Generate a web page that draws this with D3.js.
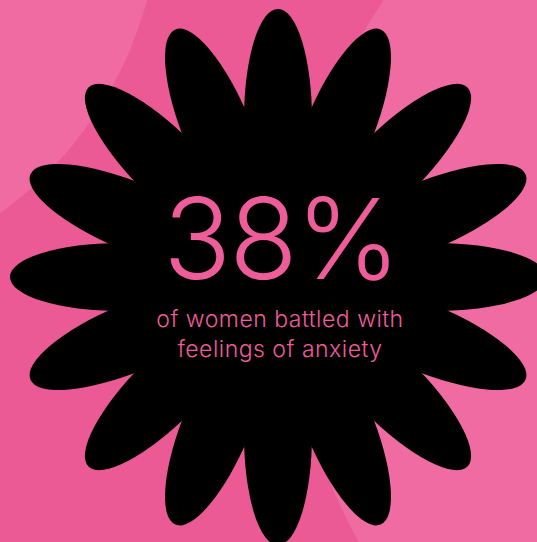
<!DOCTYPE html>
<html>
<head>
<meta charset="utf-8">
<script src="https://cdn.jsdelivr.net/npm/d3@7"></script>
<style>
  html, body { margin: 0; padding: 0; background: #EC5A95; }
  svg { display: block; }
</style>
</head>
<body>
<div id="chart"></div>
<script>
// ---- data ----
const statValue = [38];
const statSuffix = "%";
const captionLines = ["of women battled with", "feelings of anxiety"];
const petalIndex = d3.range(16);

// ---- layout ----
const W = 537, H = 542;
const colors = { dark: "#EC5A95", light: "#F06BA2", flower: "#000000", text: "#EE5C9A" };
const center = { x: 278, y: 277 };

const svg = d3.select("#chart").append("svg")
  .attr("width", W).attr("height", H);

// background
svg.append("rect").attr("width", W).attr("height", H).attr("fill", colors.dark);
svg.append("circle").attr("cx", -224.5).attr("cy", -99).attr("r", 384.5).attr("fill", colors.light);
svg.append("circle").attr("cx", 804).attr("cy", 291).attr("r", 511).attr("fill", colors.light);

// flower
const angle = d3.scaleLinear().domain([0, petalIndex.length]).range([0, 360]);
const g = svg.append("g").attr("transform", `translate(${center.x},${center.y})`);
g.append("circle").attr("r", 166).attr("fill", colors.flower);
g.selectAll("ellipse.petal").data(petalIndex).join("ellipse")
  .attr("class", "petal")
  .attr("cx", 0).attr("cy", -158)
  .attr("rx", 34).attr("ry", 110)
  .attr("transform", d => `rotate(${angle(d)})`)
  .attr("fill", colors.flower);

// text
const fmt = d3.format("d");
svg.append("text")
  .attr("x", 281).attr("y", 279)
  .attr("text-anchor", "middle")
  .attr("font-family", "Inter, Lato, sans-serif")
  .attr("font-weight", 300)
  .attr("font-size", 112)
  .attr("letter-spacing", -2)
  .attr("fill", colors.text)
  .text(fmt(statValue[0]) + statSuffix);

svg.selectAll("text.caption").data(captionLines).join("text")
  .attr("class", "caption")
  .attr("x", 280)
  .attr("y", (d, i) => 327 + i * 30)
  .attr("text-anchor", "middle")
  .attr("font-family", "Inter, Lato, sans-serif")
  .attr("font-weight", 300)
  .attr("font-size", 23)
  .attr("letter-spacing", 0.5)
  .attr("fill", colors.text)
  .text(d => d);
</script>
</body>
</html>
